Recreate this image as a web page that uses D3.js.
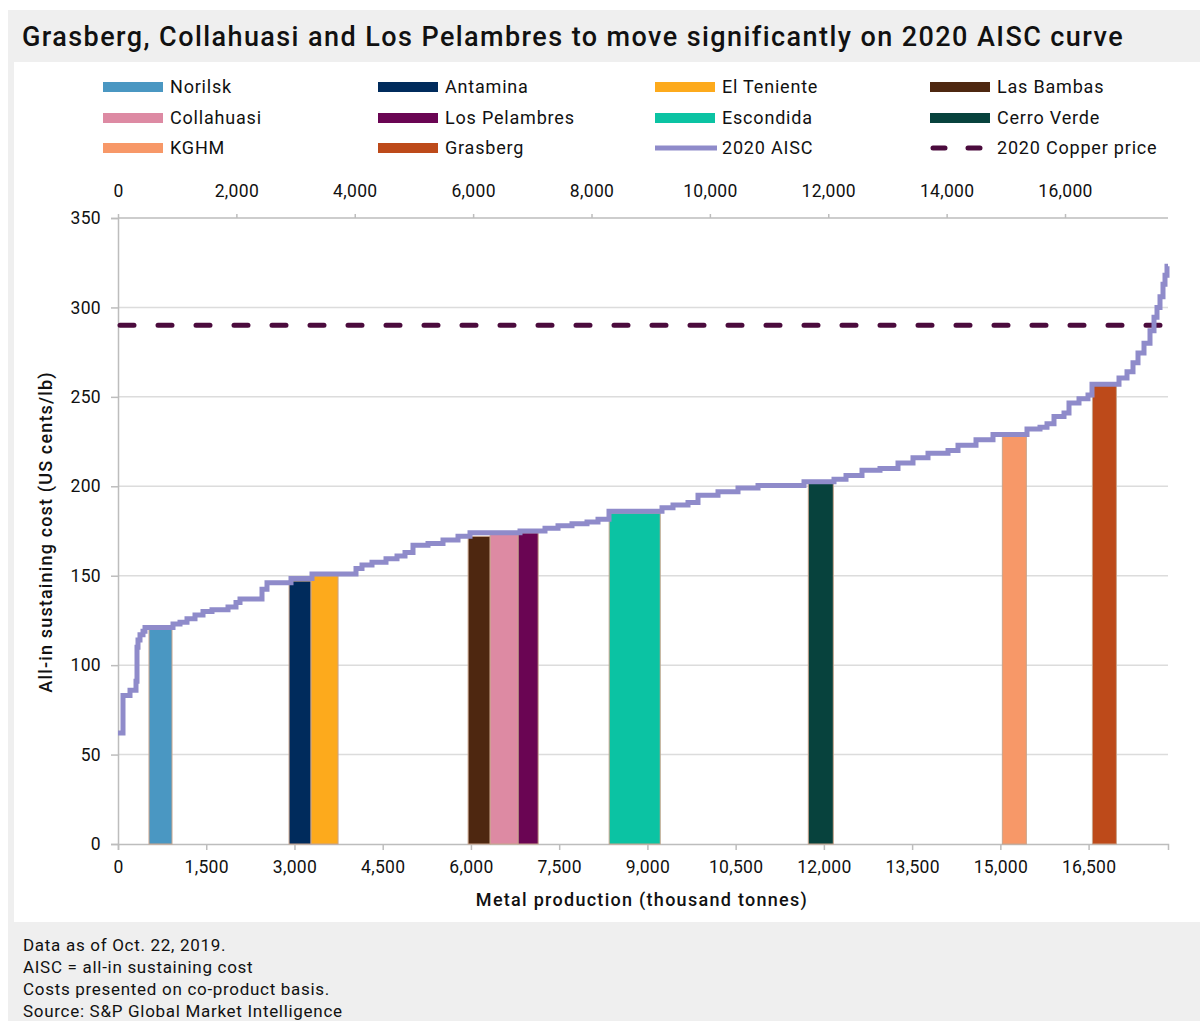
<!DOCTYPE html>
<html>
<head>
<meta charset="utf-8">
<script src="https://cdn.jsdelivr.net/npm/d3@7"></script>
<style>
  body { margin: 0; background: #fff; }
  text { font-family: Roboto, "Liberation Sans", sans-serif; fill: #111; }
</style>
</head>
<body>
<div id="chart"></div>
<script>
// ---- data ----
var mines     = ["Norilsk", "Antamina", "El Teniente", "Las Bambas", "Collahuasi",
                 "Los Pelambres", "Escondida", "Cerro Verde", "KGHM", "Grasberg"];
var mineStart = [527, 2908, 3282, 5952, 6327, 6803, 8350, 11735, 15034, 16565];
var mineEnd   = [918, 3282, 3741, 6327, 6803, 7143, 9218, 12160, 15442, 16973];
var mineCost  = [120, 147, 150, 172, 174, 174, 185, 202, 229, 257];
var mineColor = ["#4a97c2", "#002b5c", "#fdaa1c", "#4e2710", "#dd8aa3",
                 "#6a0553", "#0bc3a3", "#07423d", "#f79868", "#bd4a1a"];

// 2020 AISC curve: cumulative production (kt) where each step starts, and its cost
var aiscProd = [0, 85, 204, 306, 323, 340, 374, 425, 459, 935, 1054, 1173, 1309, 1445, 1598,
  1870, 2006, 2074, 2448, 2533, 2941, 3298, 4046, 4148, 4318, 4556, 4743, 4879, 5015, 5270,
  5525, 5780, 5984, 6834, 7259, 7480, 7718, 7973, 8160, 8347, 9248, 9435, 9690, 9860, 10200,
  10540, 10880, 11662, 12172, 12376, 12648, 12954, 13260, 13515, 13770, 14110, 14280, 14586,
  14875, 15453, 15674, 15793, 15912, 16082, 16167, 16337, 16490, 16558, 17017, 17153, 17255,
  17340, 17442, 17544, 17612, 17663, 17714, 17765, 17799, 17833, 17850];
var aiscCost = [62, 83, 86, 91, 110, 114, 117, 119, 121, 123, 124, 126, 128, 130, 131,
  132.5, 135, 137, 142.5, 146, 148.5, 151, 154, 156, 157.5, 159.5, 161, 163, 167, 168,
  170, 172, 174, 175, 176.5, 178, 179, 180, 181.5, 186, 188, 189.5, 191, 195, 197,
  199, 200.5, 202.5, 204, 206, 209, 210, 213, 216, 218.5, 220, 223, 226,
  229, 232, 233, 235, 239, 241, 246.5, 249, 251, 257, 260.5, 264, 269,
  274.5, 280, 287, 294.5, 300, 306, 313, 318, 323, 323];

var copperPrice = 290;
var yTicks = [0, 50, 100, 150, 200, 250, 300, 350];
var xBottomTicks = [0, 1500, 3000, 4500, 6000, 7500, 9000, 10500, 12000, 13500, 15000, 16500];
var xTopTicks = [0, 2000, 4000, 6000, 8000, 10000, 12000, 14000, 16000];

var legendItems = ["Norilsk", "Antamina", "El Teniente", "Las Bambas",
                   "Collahuasi", "Los Pelambres", "Escondida", "Cerro Verde",
                   "KGHM", "Grasberg", "2020 AISC", "2020 Copper price"];

var title = "Grasberg, Collahuasi and Los Pelambres to move significantly on 2020 AISC curve";
var footnotes = ["Data as of Oct. 22, 2019.", "AISC = all-in sustaining cost",
                 "Costs presented on co-product basis.", "Source: S&P Global Market Intelligence"];

// ---- layout ----
var width = 1200, height = 1021;
var plot = { left: 118, right: 1168, top: 218, bottom: 844 };
var aiscColor = "#8f8bca", priceColor = "#4b0b3d";

var svg = d3.select("#chart").append("svg").attr("width", width).attr("height", height);

// stretch a text to a wanted width with letter-spacing
function fitWidth(node, w) {
  var len = node.getComputedTextLength();
  var n = node.textContent.length;
  if (n > 1) d3.select(node).attr("letter-spacing", ((w - len) / (n - 1)).toFixed(2) + "px");
}

// backgrounds
svg.append("rect").attr("x", 8).attr("y", 10).attr("width", width - 8).attr("height", height - 10)
  .attr("fill", "#efefef");
svg.append("rect").attr("x", 14).attr("y", 62).attr("width", width - 14).attr("height", 860)
  .attr("fill", "#fff");

var titleText = svg.append("text").attr("x", 22).attr("y", 46)
  .attr("font-size", "27px").attr("font-weight", 500)
  .text(title);
fitWidth(titleText.node(), 1100);

// scales
var x = d3.scaleLinear().domain([0, 17850]).range([plot.left, plot.right]);
var xTop = d3.scaleLinear().domain([0, 17740]).range([plot.left, plot.right]);
var y = d3.scaleLinear().domain([0, 350]).range([plot.bottom, plot.top]);

// gridlines
svg.append("g").selectAll("line").data(yTicks.filter(function(d){ return d > 0 && d < 350; }))
  .enter().append("line")
  .attr("x1", plot.left).attr("x2", plot.right)
  .attr("y1", function(d){ return y(d); }).attr("y2", function(d){ return y(d); })
  .attr("stroke", "#dcdcdc").attr("stroke-width", 1.5);

// axes
var axisY = d3.axisLeft(y).tickValues(yTicks).tickSize(7).tickPadding(10);
var axisB = d3.axisBottom(x).tickValues(xBottomTicks).tickSize(6).tickPadding(11)
  .tickFormat(d3.format(","));
var axisT = d3.axisTop(xTop).tickValues(xTopTicks).tickSize(4).tickPadding(17)
  .tickFormat(d3.format(","));

function styleAxis(g) {
  g.select(".domain").attr("stroke", "#bdbdbd").attr("stroke-width", 1.5);
  g.selectAll(".tick line").attr("stroke", "#bdbdbd").attr("stroke-width", 1.5);
  g.selectAll(".tick text").attr("font-size", "17.5px").attr("fill", "#1a1a1a")
    .attr("font-family", "Roboto, sans-serif").attr("letter-spacing", "0.3px");
}

svg.append("g").attr("transform", "translate(0," + plot.bottom + ")").call(axisB).call(styleAxis);
svg.append("g").attr("transform", "translate(0," + plot.top + ")").call(axisT).call(styleAxis)
  .select(".domain").attr("d", "M" + plot.left + ",0H" + plot.right);
svg.append("g").attr("transform", "translate(" + plot.left + ",0)").call(axisY).call(styleAxis);

// axis titles
var xTitle = svg.append("text").attr("x", 642).attr("y", 906).attr("text-anchor", "middle")
  .attr("font-size", "18px").attr("font-weight", 500)
  .text("Metal production (thousand tonnes)");
fitWidth(xTitle.node(), 331);
var yTitle = svg.append("text").attr("transform", "translate(52," + 532 + ") rotate(-90)")
  .attr("text-anchor", "middle").attr("font-size", "18px").attr("font-weight", 500)
  .text("All-in sustaining cost (US cents/lb)");
fitWidth(yTitle.node(), 320);

// mine bars
svg.append("g").selectAll("rect").data(mines).enter().append("rect")
  .attr("x", function(d, i){ return x(mineStart[i]); })
  .attr("width", function(d, i){ return x(mineEnd[i]) - x(mineStart[i]); })
  .attr("y", function(d, i){ return y(mineCost[i]); })
  .attr("height", function(d, i){ return y(0) - y(mineCost[i]); })
  .attr("fill", function(d, i){ return mineColor[i]; })
  .attr("stroke", "#c9a48c").attr("stroke-width", 1);

// copper price line
svg.append("line")
  .attr("x1", plot.left + 2).attr("x2", plot.right)
  .attr("y1", y(copperPrice)).attr("y2", y(copperPrice))
  .attr("stroke", priceColor).attr("stroke-width", 5)
  .attr("stroke-linecap", "round").attr("stroke-dasharray", "14,24");

// AISC curve
var aiscData = aiscProd.map(function(p, i){ return [p, aiscCost[i]]; });
svg.append("path").datum(aiscData)
  .attr("fill", "none").attr("stroke", aiscColor).attr("stroke-width", 5)
  .attr("d", d3.line()
    .x(function(d){ return x(d[0]); })
    .y(function(d){ return y(d[1]); })
    .curve(d3.curveStepAfter));

// legend
var colX = [103, 378, 655, 930], rowY = [87, 118, 148];
var legend = svg.append("g").selectAll("g").data(legendItems).enter().append("g")
  .attr("transform", function(d, i){ return "translate(" + colX[i % 4] + "," + rowY[Math.floor(i / 4)] + ")"; });
legend.each(function(d) {
  var g = d3.select(this);
  var idx = mines.indexOf(d);
  if (idx >= 0) {
    g.append("rect").attr("x", 0).attr("y", -5).attr("width", 60).attr("height", 10)
      .attr("fill", mineColor[idx]);
  } else if (d === "2020 AISC") {
    g.append("line").attr("x1", 0).attr("x2", 62).attr("y1", 0).attr("y2", 0)
      .attr("stroke", aiscColor).attr("stroke-width", 5);
  } else {
    g.append("line").attr("x1", 3).attr("x2", 62).attr("y1", 0).attr("y2", 0)
      .attr("stroke", priceColor).attr("stroke-width", 5)
      .attr("stroke-linecap", "round").attr("stroke-dasharray", "12,23");
  }
  g.append("text").attr("x", 67).attr("y", 6).attr("font-size", "18px")
    .attr("letter-spacing", "0.8px").text(d);
});

// footnotes
svg.append("g").selectAll("text").data(footnotes).enter().append("text")
  .attr("x", 23).attr("y", function(d, i){ return 951 + i * 22; })
  .attr("font-size", "17px").attr("letter-spacing", "0.7px")
  .text(function(d){ return d; });
</script>
</body>
</html>
